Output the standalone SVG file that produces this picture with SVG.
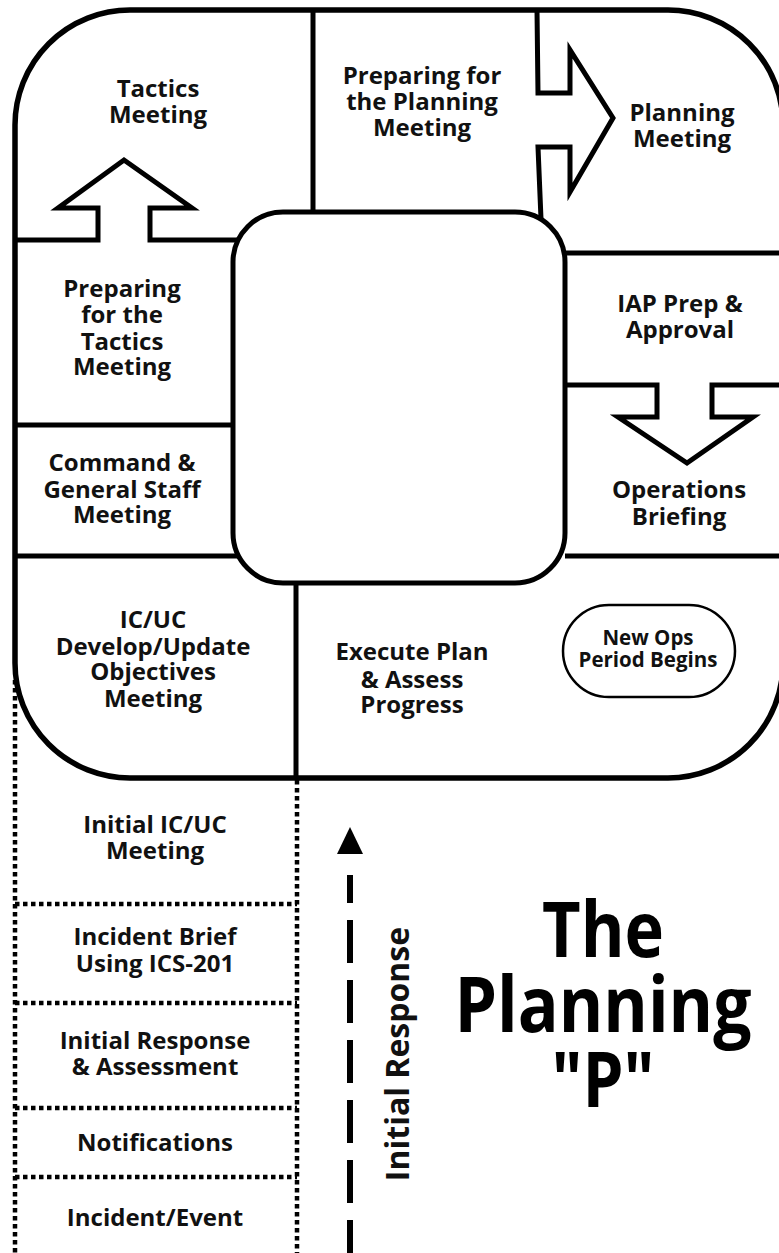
<svg xmlns="http://www.w3.org/2000/svg" width="779" height="1253" viewBox="0 0 779 1253">
  <style>
    .lbl { font-family: "Open Sans", "Noto Sans", "DejaVu Sans", sans-serif; font-weight: 700; font-size: 24px; fill: #111; text-anchor: middle; }
    .small { font-size: 20.5px; }
    .title { font-size: 77px; fill: #000; }
    .side { font-size: 32px; }
    .wall { fill: none; stroke: #000; stroke-width: 5; stroke-linejoin: miter; }
    .dots { fill: none; stroke: #000; stroke-width: 4.5; stroke-dasharray: 4.5 3.5; }
  </style>
  <rect width="779" height="1253" fill="#fff"/>

  <!-- dotted frame of the initial-response stem -->
  <g id="stem-frame">
    <line class="dots" x1="15" y1="680" x2="15" y2="1253"/>
    <line class="dots" x1="297" y1="780" x2="297" y2="1253"/>
    <line class="dots" x1="15" y1="904" x2="297" y2="904"/>
    <line class="dots" x1="15" y1="1003" x2="297" y2="1003"/>
    <line class="dots" x1="15" y1="1108" x2="297" y2="1108"/>
    <line class="dots" x1="15" y1="1177" x2="297" y2="1177"/>
  </g>

  <!-- outer loop of the P -->
  <rect id="loop" x="15" y="10" width="768" height="768" rx="115" fill="#fff" stroke="#000" stroke-width="5.5"/>

  <!-- partition walls and arrow-shaped borders -->
  <g id="connectors">
    <line class="wall" x1="313" y1="10" x2="313" y2="214"/>
    <polyline class="wall" points="537,10 538,93 570,93 570,50 613,118 570,192 570,147 538,147 541,219"/>
    <line class="wall" x1="565" y1="253" x2="783" y2="253"/>
    <polyline class="wall" points="565,385 657,385 657,417 618,417 687,463 753,417 712,417 712,385 783,385"/>
    <line class="wall" x1="565" y1="556" x2="783" y2="556"/>
    <polyline class="wall" points="15,240 98,240 98,208 58,208 124,160 192,208 150,208 150,240 239,240"/>
    <line class="wall" x1="15" y1="425" x2="235" y2="425"/>
    <line class="wall" x1="15" y1="556" x2="238" y2="556"/>
    <line class="wall" x1="296" y1="580" x2="296" y2="778"/>
    <!-- initial response arrow -->
    <line x1="350" y1="875" x2="350" y2="1253" stroke="#000" stroke-width="6" stroke-dasharray="43 17" stroke-dashoffset="15"/>
    <polygon points="350,827 337,854 363,854" fill="#000"/>
  </g>

  <!-- centre hole of the P -->
  <rect id="hub" x="233" y="212" width="332" height="371" rx="50" fill="#fff" stroke="#000" stroke-width="5"/>

  <g id="tactics-meeting"><text class="lbl" x="158" y="97">Tactics</text><text class="lbl" x="158" y="123">Meeting</text></g>
  <g id="prep-planning"><text class="lbl" x="422" y="84">Preparing for</text><text class="lbl" x="422" y="110">the Planning</text><text class="lbl" x="422" y="136">Meeting</text></g>
  <g id="planning-meeting"><text class="lbl" x="682" y="121">Planning</text><text class="lbl" x="682" y="147">Meeting</text></g>
  <g id="prep-tactics"><text class="lbl" x="122" y="297">Preparing</text><text class="lbl" x="122" y="323">for the</text><text class="lbl" x="122" y="350">Tactics</text><text class="lbl" x="122" y="375">Meeting</text></g>
  <g id="cgs-meeting"><text class="lbl" x="122" y="471">Command &amp;</text><text class="lbl" x="122" y="498">General Staff</text><text class="lbl" x="122" y="523">Meeting</text></g>
  <g id="iap-prep"><text class="lbl" x="680" y="312">IAP Prep &amp;</text><text class="lbl" x="680" y="338">Approval</text></g>
  <g id="ops-briefing"><text class="lbl" x="679" y="498">Operations</text><text class="lbl" x="679" y="525">Briefing</text></g>
  <g id="objectives"><text class="lbl" x="153" y="628">IC/UC</text><text class="lbl" x="153" y="655">Develop/Update</text><text class="lbl" x="153" y="680">Objectives</text><text class="lbl" x="153" y="707">Meeting</text></g>
  <g id="execute"><text class="lbl" x="412" y="660">Execute Plan</text><text class="lbl" x="412" y="688">&amp; Assess</text><text class="lbl" x="412" y="713">Progress</text></g>
  <g id="new-ops">
    <rect x="563" y="605" width="172" height="92" rx="46" fill="#fff" stroke="#000" stroke-width="2.5"/>
    <text class="lbl small" x="648" y="645">New Ops</text><text class="lbl small" x="648" y="667">Period Begins</text>
  </g>
  <g id="initial-ic-uc"><text class="lbl" x="155" y="833">Initial IC/UC</text><text class="lbl" x="155" y="859">Meeting</text></g>
  <g id="incident-brief"><text class="lbl" x="155" y="945">Incident Brief</text><text class="lbl" x="155" y="972">Using ICS-201</text></g>
  <g id="initial-response"><text class="lbl" x="155" y="1049">Initial Response</text><text class="lbl" x="155" y="1075">&amp; Assessment</text></g>
  <g id="notifications"><text class="lbl" x="155" y="1151">Notifications</text></g>
  <g id="incident-event"><text class="lbl" x="155" y="1226">Incident/Event</text></g>

  <text class="lbl side" transform="translate(409,1054) rotate(-90)">Initial Response</text>
  <g id="title">
    <text class="lbl title" x="603" y="957" textLength="122" lengthAdjust="spacingAndGlyphs">The</text>
    <text class="lbl title" x="603" y="1032" textLength="297" lengthAdjust="spacingAndGlyphs">Planning</text>
    <text class="lbl title" x="603" y="1107" textLength="103" lengthAdjust="spacingAndGlyphs">"P"</text>
  </g>
</svg>
